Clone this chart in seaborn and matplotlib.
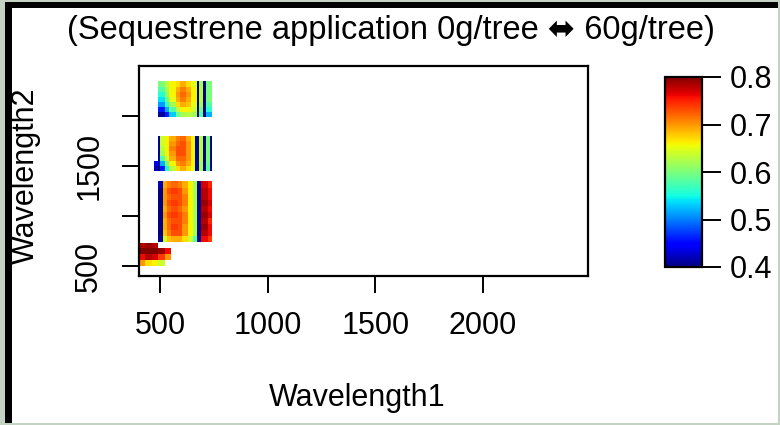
import numpy as np
import matplotlib
matplotlib.use("Agg")
import matplotlib.pyplot as plt
from matplotlib.patches import Rectangle
import seaborn as sns

nan = np.nan

# ---------------- data (correlation blocks) ----------------
title = "(Sequestrene application 0g/tree \u2b0c 60g/tree)"
x_label = "Wavelength1"
y_label = "Wavelength2"
x_ticks = [500, 1000, 1500, 2000]
x_tick_labels = ["500", "1000", "1500", "2000"]
y_ticks = [500, 1000, 1500, 2000]
y_tick_labels = ["500", "", "1500", ""]
cbar_ticks = [0.4, 0.5, 0.6, 0.7, 0.8]
cbar_tick_labels = ["0.4", "0.5", "0.6", "0.7", "0.8"]

# block A (bottom-left)
a_x_edges = [400, 430, 460, 490, 520, 550]
a_y_edges = [500, 560, 620, 680, 730]
a_values = [
    [0.70, 0.67, 0.66, 0.64, nan],
    [0.76, 0.78, 0.77, 0.74, 0.70],
    [0.80, 0.80, 0.80, 0.79, 0.76],
    [0.78, 0.79, 0.78, nan, nan],
]

# block D (main block, 740-1350)
d_x_edges = [495, 512, 530, 555, 580, 605, 630, 648, 666, 680, 694, 718, 745]
d_y_edges = [740, 800, 860, 920, 980, 1040, 1100, 1160, 1220, 1280, 1350]
d_values = [
    [0.41, 0.64, 0.68, 0.69, 0.69, 0.67, 0.64, 0.58, 0.40, 0.41, 0.76, 0.74],
    [0.40, 0.68, 0.71, 0.73, 0.73, 0.70, 0.66, 0.62, 0.40, 0.41, 0.78, 0.76],
    [0.40, 0.69, 0.72, 0.74, 0.73, 0.70, 0.66, 0.62, 0.40, 0.41, 0.79, 0.76],
    [0.40, 0.69, 0.72, 0.73, 0.73, 0.71, 0.66, 0.62, 0.40, 0.41, 0.78, 0.75],
    [0.40, 0.70, 0.73, 0.74, 0.73, 0.71, 0.66, 0.62, 0.40, 0.41, 0.79, 0.77],
    [0.40, 0.69, 0.72, 0.73, 0.72, 0.70, 0.66, 0.62, 0.40, 0.41, 0.78, 0.76],
    [0.40, 0.70, 0.73, 0.74, 0.73, 0.71, 0.66, 0.62, 0.40, 0.41, 0.79, 0.77],
    [0.40, 0.70, 0.72, 0.73, 0.73, 0.71, 0.66, 0.62, 0.40, 0.41, 0.78, 0.76],
    [0.40, 0.70, 0.73, 0.74, 0.73, 0.70, 0.66, 0.62, 0.40, 0.41, 0.78, 0.76],
    [0.42, 0.69, 0.71, 0.72, 0.71, 0.69, 0.66, 0.62, 0.40, 0.41, 0.77, 0.75],
]

# block B (1450-1800)
b_x_edges = [470, 493, 505, 525, 545, 570, 595, 620, 645, 665, 680, 700, 712, 728, 738]
b_y_edges = [1450, 1500, 1550, 1600, 1650, 1700, 1750, 1800]
b_values = [
    [0.42, 0.40, 0.46, 0.55, 0.63, 0.67, 0.69, 0.67, 0.65, 0.41, 0.62, 0.40, 0.58, 0.41],
    [0.44, 0.41, 0.52, 0.60, 0.66, 0.70, 0.71, 0.69, 0.66, 0.41, 0.62, 0.40, 0.59, 0.41],
    [nan, 0.41, 0.58, 0.64, 0.69, 0.72, 0.72, 0.70, 0.66, 0.41, 0.63, 0.40, 0.60, 0.41],
    [nan, 0.41, 0.62, 0.66, 0.70, 0.73, 0.73, 0.70, 0.66, 0.41, 0.63, 0.40, 0.60, 0.41],
    [nan, 0.41, 0.63, 0.66, 0.71, 0.73, 0.73, 0.70, 0.66, 0.41, 0.63, 0.40, 0.60, 0.41],
    [nan, 0.41, 0.64, 0.66, 0.70, 0.72, 0.73, 0.70, 0.66, 0.41, 0.63, 0.40, 0.60, 0.41],
    [nan, 0.41, 0.64, 0.66, 0.69, 0.71, 0.72, 0.69, 0.66, 0.41, 0.63, 0.40, 0.60, 0.41],
]

# block C (1990-2350)
c_x_edges = [493, 518, 543, 568, 593, 618, 643, 666, 680, 704, 713, 737]
c_y_edges = [1990, 2040, 2090, 2140, 2190, 2240, 2290, 2350]
c_values = [
    [0.41, 0.46, 0.53, 0.59, 0.62, 0.63, 0.62, 0.41, 0.58, 0.40, 0.52],
    [0.46, 0.52, 0.58, 0.63, 0.66, 0.66, 0.64, 0.41, 0.60, 0.40, 0.56],
    [0.51, 0.56, 0.62, 0.67, 0.69, 0.68, 0.65, 0.41, 0.62, 0.40, 0.58],
    [0.54, 0.59, 0.65, 0.69, 0.71, 0.69, 0.66, 0.41, 0.63, 0.40, 0.60],
    [0.56, 0.61, 0.66, 0.70, 0.72, 0.70, 0.66, 0.41, 0.63, 0.40, 0.60],
    [0.58, 0.62, 0.66, 0.69, 0.71, 0.69, 0.66, 0.41, 0.63, 0.40, 0.60],
    [0.60, 0.63, 0.66, 0.67, 0.69, 0.67, 0.65, 0.41, 0.62, 0.40, 0.60],
]

# ---------------- build the wavelength grid (10 nm cells) ----------------
wl_start, wl_stop, wl_step = 400, 2500, 10
centers = np.arange(wl_start, wl_stop, wl_step) + wl_step / 2
grid = np.full((len(centers), len(centers)), np.nan)

blocks = [(a_x_edges, a_y_edges, a_values), (d_x_edges, d_y_edges, d_values),
          (b_x_edges, b_y_edges, b_values), (c_x_edges, c_y_edges, c_values)]
for xe, ye, vals in blocks:
    vals = np.array(vals, dtype=float)
    xi = np.digitize(centers, xe) - 1
    yi = np.digitize(centers, ye) - 1
    for r, iy in enumerate(yi):
        if iy < 0 or iy >= vals.shape[0]:
            continue
        for c, ix in enumerate(xi):
            if ix < 0 or ix >= vals.shape[1]:
                continue
            if not np.isnan(vals[iy, ix]):
                grid[r, c] = vals[iy, ix]


def to_idx(w):
    return (w - wl_start) / wl_step


# ---------------- plotting ----------------
sns.set_theme(style="white")
plt.rcParams["font.family"] = ["Liberation Sans", "DejaVu Sans"]
plt.rcParams["text.color"] = "black"
plt.rcParams["axes.labelcolor"] = "black"
plt.rcParams["xtick.color"] = "black"
plt.rcParams["ytick.color"] = "black"

W, H = 780, 425
fig = plt.figure(figsize=(W / 100, H / 100), dpi=100)
fig.patch.set_facecolor("#c4d2c4")
# black inset frame and white page
fig.patches.append(Rectangle((5 / W, 1 - 423 / H), 773 / W, 421 / H,
                             transform=fig.transFigure, facecolor="black",
                             edgecolor="none", zorder=-3))
fig.patches.append(Rectangle((12 / W, 1 - 423 / H), 766 / W, 415 / H,
                             transform=fig.transFigure, facecolor="white",
                             edgecolor="none", zorder=-2))

ax = fig.add_axes([139 / W, 1 - 276 / H, 449 / W, 210 / H])
cax = fig.add_axes([665 / W, 1 - 267 / H, 37 / W, 190 / H])

sns.heatmap(grid, ax=ax, cmap="jet", vmin=0.4, vmax=0.8, cbar_ax=cax,
            xticklabels=False, yticklabels=False)
ax.set_facecolor("none")
ax.set_xlim(0, to_idx(2490))
ax.set_ylim(0, to_idx(2500))

fs = 22
for s in ax.spines.values():
    s.set_visible(True)
    s.set_color("black")
    s.set_linewidth(1.6)

ax.set_xticks([to_idx(v) for v in x_ticks])
ax.set_xticklabels(x_tick_labels, fontsize=fs, color="black")
ax.set_yticks([to_idx(v) for v in y_ticks])
ax.set_yticklabels(y_tick_labels, fontsize=fs, rotation=90, va="center",
                   color="black")
ax.tick_params(axis="both", direction="out", length=12, width=1.4,
               color="black", labelcolor="black", pad=13, bottom=True, left=True)

ax.set_xlabel(x_label, fontsize=fs, color="black")
ax.xaxis.set_label_coords(0.486, -0.581)
ax.xaxis.label.set_va("center")
ax.set_ylabel(y_label, fontsize=fs, color="black")
ax.yaxis.set_label_coords(-0.252, 0.476)
ax.yaxis.label.set_va("center")

cb = ax.collections[0].colorbar
cb.outline.set_visible(True)
cb.outline.set_linewidth(1.6)
cb.outline.set_edgecolor("black")
cb.set_ticks(cbar_ticks)
cb.set_ticklabels(cbar_tick_labels)
cax.tick_params(direction="out", length=14, width=1.4, color="black",
                labelcolor="black", pad=6, labelsize=fs, right=True)

fig.text(391 / W, 1 - 30 / H, title, ha="center", va="center", fontsize=23.5,
         color="black", family=["Liberation Sans", "DejaVu Sans"])

fig.savefig("out.png", dpi=100, facecolor=fig.get_facecolor())
